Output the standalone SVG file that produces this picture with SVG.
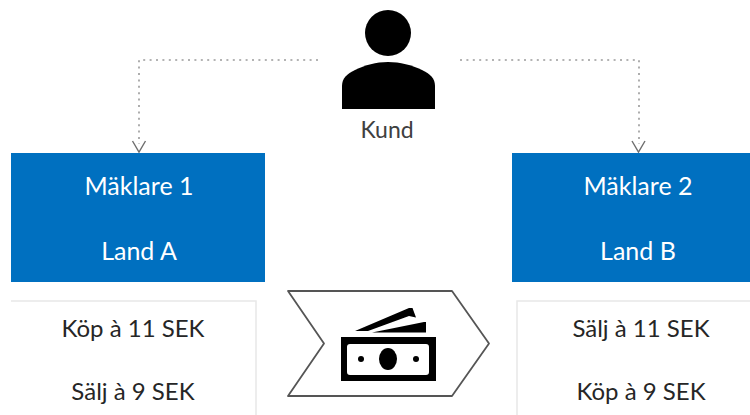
<svg xmlns="http://www.w3.org/2000/svg" width="750" height="415" viewBox="0 0 750 415">
<defs>
<filter id="soft" x="-5%" y="-5%" width="110%" height="110%"><feGaussianBlur stdDeviation="0.6"/></filter>
</defs>
<style>
text{font-family:Lato,"Open Sans","Liberation Sans",sans-serif;text-anchor:middle}
.w{fill:#ffffff;font-size:25px}
.d{fill:#262626;font-size:24px}
.blue{fill:#0070c0}
.pale{fill:#ffffff;stroke:#e8e8e8;stroke-width:1.5}
.link{fill:none;stroke:#9a9a9a;stroke-width:1.6;stroke-dasharray:2 4.4}
.head{fill:none;stroke:#6e6e6e;stroke-width:1.4}
</style>
<rect width="750" height="415" fill="#ffffff"/>
<g id="connectors" filter="url(#soft)">
<path class="link" d="M318 60 H139 V144"/>
<path class="link" d="M460 60 H639 V144"/>
<path class="head" d="M132.500 141 L139 152 L145.500 141"/>
<path class="head" d="M632 141 L638.500 152 L645 141"/>
</g>
<g id="kund">
<g filter="url(#soft)">
<circle cx="388" cy="33" r="23"/>
<path d="M342 109 V86 C342 78 347 74 355 70 C365 65 376 62 388 62 C400 62 412 65 422 70 C430 74 435 78 435 86 V109 Z"/>
</g>
<text x="387" y="138" style="font-size:23px;fill:#404040">Kund</text>
</g>
<g id="maklare1">
<rect class="blue" x="11" y="153" width="254" height="129"/>
<text class="w" x="139" y="195">Mäklare 1</text>
<text class="w" x="139" y="260">Land A</text>
</g>
<g id="maklare2">
<rect class="blue" x="512" y="153" width="238" height="129"/>
<text class="w" x="638" y="195">Mäklare 2</text>
<text class="w" x="638" y="260">Land B</text>
</g>
<g id="prices1">
<path class="pale" d="M11 301 H256 V415"/>
<text class="d" x="133" y="337">Köp à 11 SEK</text>
<text class="d" x="133" y="400">Sälj à 9 SEK</text>
</g>
<g id="prices2">
<path class="pale" d="M750 301 H517 V415"/>
<text class="d" x="641" y="337">Sälj à 11 SEK</text>
<text class="d" x="641" y="400">Köp à 9 SEK</text>
</g>
<g id="money" filter="url(#soft)">
<path d="M288 291 H452 L489 343.500 L452 396 H288 L324 343.500 Z" fill="#ffffff" stroke="#555555" stroke-width="1.8" stroke-linejoin="round"/>
<path fill-rule="evenodd" d="M341 337 H436 V381 H341 Z M350 344 Q347 344 347 347 V372 Q347 375 350 375 H426 Q429 375 429 372 V347 Q429 344 426 344 Z"/>
<ellipse cx="388" cy="359" rx="9" ry="11"/>
<circle cx="361" cy="359" r="3"/>
<circle cx="416" cy="359" r="3"/>
<path d="M355 331 L409 308 L412.500 308 L416 317.500 L409 316 L368 331 Z"/>
<path d="M372 332.500 L424 322 L426 322 L426 332.500 Z"/>
</g>
</svg>
